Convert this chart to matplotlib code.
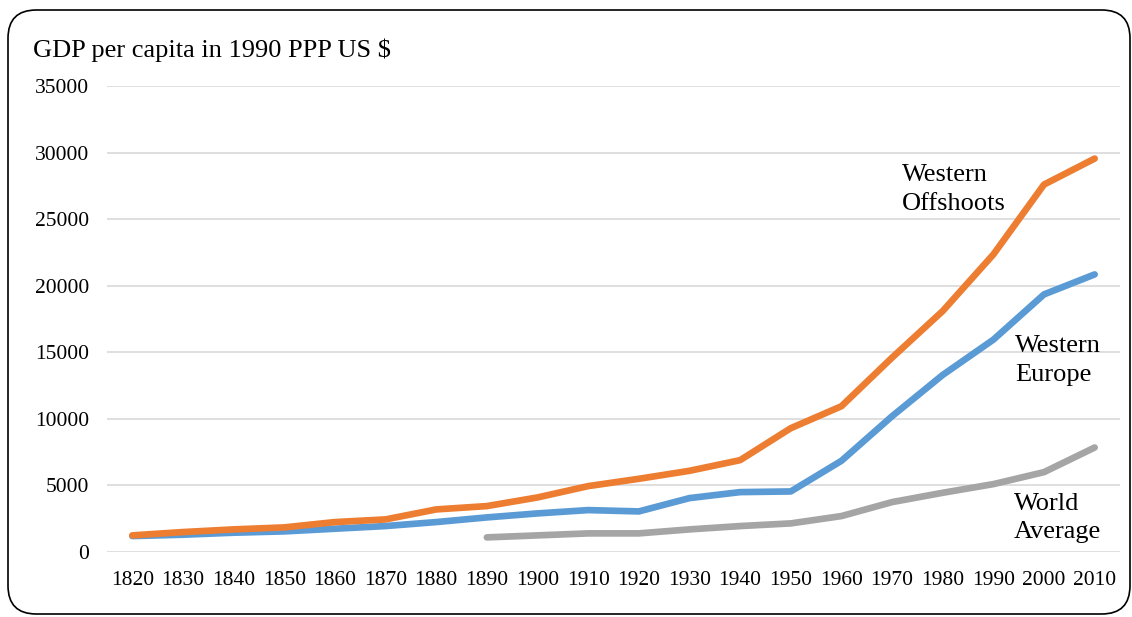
import matplotlib.pyplot as plt
from matplotlib.patches import FancyBboxPatch

plt.rcParams['font.family'] = ['Liberation Serif', 'DejaVu Serif']

years = [1820, 1830, 1840, 1850, 1860, 1870, 1880, 1890, 1900, 1910,
         1920, 1930, 1940, 1950, 1960, 1970, 1980, 1990, 2000, 2010]

# GDP per capita
western_europe = [1200, 1300, 1450, 1550, 1750, 1950, 2250, 2600, 2900, 3150,
                  3050, 4050, 4500, 4550, 6850, 10200, 13300, 15950, 19350, 20850]
western_offshoots = [1250, 1500, 1700, 1850, 2250, 2450, 3200, 3450, 4100, 4950,
                     5500, 6100, 6900, 9300, 10950, 14600, 18100, 22350, 27600, 29550]
world_average = [None, None, None, None, None, None, None, 1100, 1250, 1400,
                 1400, 1700, 1950, 2150, 2700, 3750, 4450, 5100, 6000, 7850]

fig = plt.figure(figsize=(11.32, 6.17), dpi=100)
ax = fig.add_axes([0.0945, 0.1053, 0.8949, 0.7553])

x = list(range(len(years)))

def plot_series(vals, color):
    xs = [i for i, v in zip(x, vals) if v is not None]
    ys = [v for v in vals if v is not None]
    ax.plot(xs, ys, color=color, lw=4.8, solid_capstyle='round',
            solid_joinstyle='round', zorder=3)

plot_series(western_europe, '#5B9BD5')
plot_series(western_offshoots, '#ED7D31')
plot_series(world_average, '#A5A5A5')

ax.set_xlim(-0.5, len(years) - 0.5)
ax.set_ylim(0, 35000)
ax.set_yticks(range(0, 35001, 5000))
ax.set_xticks(x)
ax.set_xticklabels([str(y) for y in years])
ax.tick_params(axis='both', length=0, labelsize=15.5, colors='black')
ax.tick_params(axis='y', pad=13)
ax.tick_params(axis='x', pad=14)
ax.grid(axis='y', color='#D9D9D9', lw=1.2)
ax.set_axisbelow(True)
for s in ax.spines.values():
    s.set_visible(False)

# series labels
ax.text(15.2, 27250, 'Western\nOffshoots', fontsize=19, va='center', ha='left', linespacing=1.4)
ax.text(17.43, 14400, 'Western\nEurope', fontsize=19, va='center', ha='left', linespacing=1.4)
ax.text(17.41, 2550, 'World\nAverage', fontsize=19, va='center', ha='left', linespacing=1.4)

fig.text(33 / 1132, 1 - 50 / 617, 'GDP per capita in 1990 PPP US $', fontsize=19,
         va='center', ha='left')

# rounded frame around the chart
frame = FancyBboxPatch((8 / 1132, 3 / 617), 1 - 10 / 1132, 1 - 13 / 617,
                       boxstyle='round,pad=0,rounding_size=0.025',
                       transform=fig.transFigure, fill=False,
                       edgecolor='black', lw=1.2, mutation_aspect=1132 / 617)
fig.patches.append(frame)

fig.savefig('out.png', dpi=100)
